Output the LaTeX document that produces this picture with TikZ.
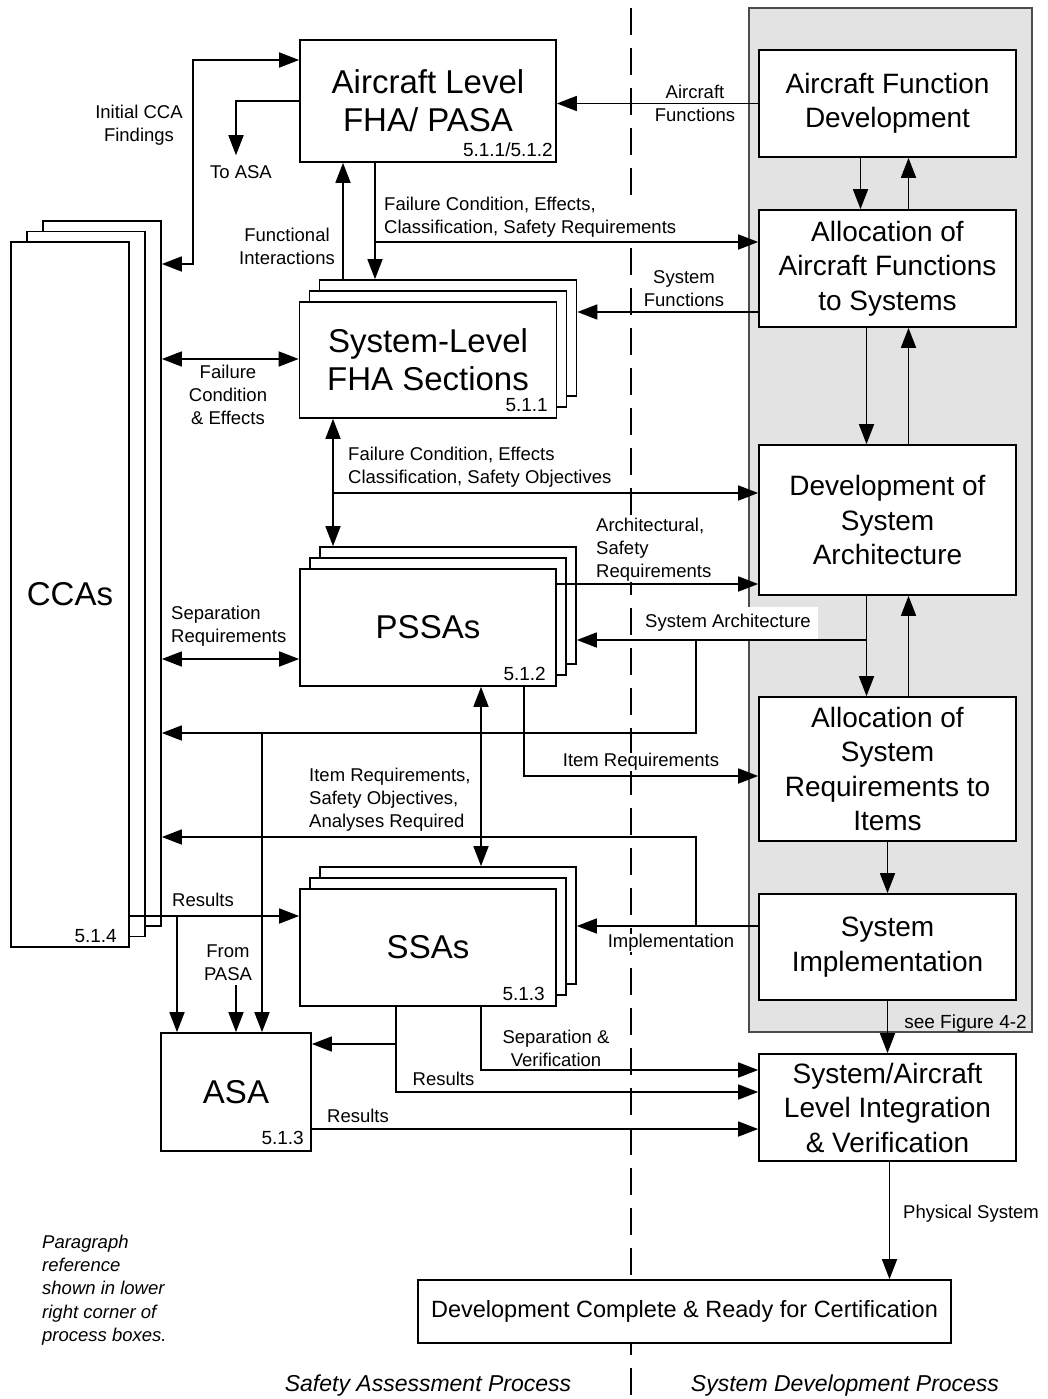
\documentclass[tikz,border=0pt]{standalone}
\usepackage{fontspec}
\setmainfont{Liberation Sans}
\usepackage{tikz}
\usetikzlibrary{arrows.meta,shadows}

\begin{document}
\begin{tikzpicture}[x=1pt,y=-1pt,
  caja/.style={draw, line width=1.7pt, fill=white, align=center, inner sep=0pt},
  grande/.style={caja, font=\fontsize{33}{38}\selectfont},
  derecha/.style={caja, minimum width=257pt, font=\fontsize{28}{34.5}\selectfont},
  pila/.style={copy shadow={shadow xshift=20pt,shadow yshift=22pt},
               copy shadow={shadow xshift=10pt,shadow yshift=11pt}},
  num/.style={anchor=base east, inner sep=0pt, font=\fontsize{19}{22}\selectfont},
  etq/.style={inner sep=0pt, fill=white, font=\fontsize{18.5}{23}\selectfont},
  flecha/.style={line width=1.7pt, -{Triangle[length=20pt,width=15pt]}},
  doble/.style={line width=1.7pt, {Triangle[length=20pt,width=15pt]}-{Triangle[length=20pt,width=15pt]}}]
  \useasboundingbox (0,0) rectangle (1047,1399);

  % Panel gris del proceso de desarrollo
  \draw[draw=black!70, fill=black!11, line width=1.5pt] (749,8) rectangle (1032,1032);

  % Linea divisoria
  \draw[line width=1.5pt, dash pattern=on 27pt off 13pt] (631,8) -- (631,1399);

  % Cajas del proceso de seguridad
  \node[grande, minimum width=256pt, minimum height=122pt] (afha) at (428,101) {Aircraft Level\\FHA/ PASA};
  \node[grande, pila, minimum width=257pt, minimum height=116pt] (sfha) at (428,360) {System-Level\\FHA Sections};
  \node[grande, pila, minimum width=256pt, minimum height=117pt] (pssa) at (428,627.5) {PSSAs};
  \node[grande, pila, minimum width=256pt, minimum height=117pt] (ssa) at (428,947.5) {SSAs};
  \node[grande, minimum width=118pt, minimum height=705pt,
        copy shadow={shadow xshift=32pt,shadow yshift=21pt},
        copy shadow={shadow xshift=16pt,shadow yshift=10.5pt}] (cca) at (70,594.5) {CCAs};
  \node[grande, minimum width=150pt, minimum height=118pt] (asa) at (236,1092) {ASA};

  % Cajas del proceso de desarrollo
  \node[derecha, minimum height=107pt] (afd) at (887.5,103.5) {Aircraft Function\\Development};
  \node[derecha, minimum height=117pt] (aaf) at (887.5,268.5) {Allocation of\\Aircraft Functions\\to Systems};
  \node[derecha, minimum height=150pt] (dsa) at (887.5,520) {Development of\\System\\Architecture};
  \node[derecha, minimum height=144pt] (asr) at (887.5,769) {Allocation of\\System\\Requirements to\\Items};
  \node[derecha, minimum height=106pt] (si) at (887.5,947) {System\\Implementation};
  \node[derecha, minimum height=107pt] (saiv) at (887.5,1107.5) {System/Aircraft\\Level Integration\\\& Verification};
  \node[caja, minimum width=533pt, minimum height=63pt, font=\fontsize{23.5}{28}\selectfont] (dcrc) at (684.5,1311.5) {Development Complete \& Ready for Certification};

  % Referencias de parrafo
  \node[num] (n1) at (553,157) {5.1.1/5.1.2};
  \node[num] (n2) at (548,411) {5.1.1};
  \node[num] (n3) at (546,680) {5.1.2};
  \node[num] (n4) at (545,1000) {5.1.3};
  \node[num] (n5) at (117,942) {5.1.4};
  \node[num] (n6) at (304,1144) {5.1.3};
  \node[num] (fig) at (1027,1028) {see Figure 4-2};

  % Bordes de las pilas
  \coordinate (ccaR) at ([xshift=32pt]cca.east);
  \coordinate (sfhaR) at ([xshift=20pt]sfha.east);
  \coordinate (pssaR) at ([xshift=20pt]pssa.east);
  \coordinate (ssaR) at ([xshift=20pt]ssa.east);
  \coordinate (sfhaT) at ([yshift=22pt]sfha.north);
  \coordinate (pssaT) at ([yshift=22pt]pssa.north);
  \coordinate (ssaT) at ([yshift=22pt]ssa.north);

  % Etiquetas
  \node[etq, align=center] (l1) at (139,125) {Initial CCA\\Findings};
  \node[etq] (toasa) at (241,172) {To ASA};
  \node[etq, align=center] (l2) at (287,246) {Functional\\Interactions};
  \node[etq, align=center] (l3) at (695,103) {Aircraft\\Functions};
  \node[etq, align=left, anchor=west] (l4) at (384,217) {Failure Condition, Effects,\\Classification, Safety Requirements};
  \node[etq, align=center] (l5) at (684,289) {System\\Functions};
  \node[etq, align=center] (l6) at (228,395) {Failure\\Condition\\\& Effects};
  \node[etq, align=left, anchor=west] (l7) at (348,467) {Failure Condition, Effects\\Classification, Safety Objectives};
  \node[etq, align=left, anchor=west] (l8) at (596,550) {Architectural,\\Safety\\Requirements};
  \node[etq, inner xsep=7pt, inner ysep=7pt] (l9) at (728,623) {System Architecture};
  \node[etq, align=left, anchor=west] (l10) at (171,626) {Separation\\Requirements};
  \node[etq] (l11) at (641,762) {Item Requirements};
  \node[etq, align=left, anchor=west] (l12) at (309,800) {Item Requirements,\\Safety Objectives,\\Analyses Required};
  \node[etq] (l13) at (203,900) {Results};
  \node[etq, align=center] (frompasa) at (228,963) {From\\PASA};
  \node[etq] (l14) at (671,943) {Implementation};
  \node[etq, align=center] (l15) at (556,1048) {Separation \&\\Verification};
  \node[etq] (l16) at (443.5,1079) {Results};
  \node[etq] (l17) at (358,1116) {Results};
  \node[etq, anchor=west] (l18) at (903,1214) {Physical System};
  \node[etq, align=left, anchor=west, font=\itshape\fontsize{18.5}{23.2}\selectfont] (nota) at (42,1290)
    {Paragraph\\reference\\shown in lower\\right corner of\\process boxes.};
  \node[etq, font=\itshape\fontsize{23}{28}\selectfont] (sap) at (428,1386) {Safety Assessment Process};
  \node[etq, font=\itshape\fontsize{23}{28}\selectfont] (sdp) at (845,1386) {System Development Process};

  % Funciones del avion
  \draw[flecha] (afd.west) -- (afd.west -| afha.east);
  % FHA del avion hacia sistemas
  \coordinate (fc1) at (375,242);
  \draw[flecha] ([xshift=-53pt]afha.south) -- ([xshift=-53pt]afha.south |- sfhaT);
  \draw[flecha] (fc1) -- (fc1 -| aaf.west);
  \draw[flecha] ([xshift=-85pt]afha.south |- sfhaT) -- ([xshift=-85pt]afha.south);
  % Hallazgos CCA iniciales
  \coordinate (ic) at (193,60);
  \draw[doble] (ccaR |- 0,264) -| (ic) -- (afha.west |- ic);
  % Hacia ASA
  \draw[flecha] (afha.west) -| ([xshift=-5pt,yshift=10pt]toasa.north);
  % Funciones del sistema
  \draw[flecha] (aaf.west |- 0,312) -- (sfhaR |- 0,312);
  \draw[doble] (ccaR |- 0,359) -- (sfha.west |- 0,359);
  % FHA de sistema y PSSA
  \draw[doble] ([xshift=-95pt]sfha.south) -- ([xshift=-95pt]sfha.south |- pssaT);
  \coordinate (fc2) at (333,493);
  \draw[flecha] (fc2) -- (fc2 -| dsa.west);
  \draw[flecha] (pssa.east |- 0,584) -- (dsa.west |- 0,584);
  % Arquitectura del sistema
  \coordinate (dsaL) at ([xshift=-21pt]dsa.south);
  \coordinate (sa1) at (dsaL |- 0,640);
  \coordinate (sa2) at (696,640);
  \coordinate (sa3) at (262,733);
  \draw[flecha] (sa1) -- (pssaR |- sa1);
  \draw[flecha] (sa2) |- (ccaR |- sa3);
  \draw[flecha] (sa3) -- (sa3 |- asa.north);
  \draw[doble] (ccaR |- 0,659) -- (pssa.west |- 0,659);
  % Requisitos de elementos
  \draw[flecha] ([xshift=96pt]pssa.south) |- (asr.west |- 0,776);
  \draw[doble] ([xshift=53pt]pssa.south) -- ([xshift=53pt]pssa.south |- ssaT);
  % Implementacion
  \coordinate (im1) at (696,926);
  \draw[flecha] (si.west |- im1) -- (ssaR |- im1);
  \draw[flecha] (im1) |- (ccaR |- 0,837);
  % Resultados
  \coordinate (rs1) at (177,916);
  \draw[flecha] (cca.east |- rs1) -- (ssa.west |- rs1);
  \draw[flecha] (rs1) -- (rs1 |- asa.north);
  \draw[flecha] ([xshift=8pt,yshift=-4pt]frompasa.south) -- ([xshift=8pt]frompasa.south |- asa.north);
  \coordinate (sr) at ([xshift=-32pt]ssa.south);
  \draw[flecha] (sr) |- (asa.east |- 0,1044);
  \draw[flecha] (sr) |- (saiv.west |- 0,1092);
  \draw[flecha] ([xshift=53pt]ssa.south) |- (saiv.west |- 0,1070);
  \draw[flecha] (asa.east |- 0,1129) -- (saiv.west |- 0,1129);

  % Columna de desarrollo
  \draw[flecha] ([xshift=-27pt]afd.south) -- ([xshift=-27pt]aaf.north);
  \draw[flecha] ([xshift=21pt]aaf.north) -- ([xshift=21pt]afd.south);
  \draw[flecha] ([xshift=-21pt]aaf.south) -- ([xshift=-21pt]dsa.north);
  \draw[flecha] ([xshift=21pt]dsa.north) -- ([xshift=21pt]aaf.south);
  \draw[flecha] (dsaL) -- (dsaL |- asr.north);
  \draw[flecha] ([xshift=21pt]asr.north) -- ([xshift=21pt]dsa.south);
  \draw[flecha] (asr.south) -- (si.north);
  \draw[flecha] (si.south) -- (saiv.north);
  \draw[flecha] ([xshift=2pt]saiv.south) -- ([xshift=2pt]saiv.south |- dcrc.north);
\end{tikzpicture}
\end{document}
